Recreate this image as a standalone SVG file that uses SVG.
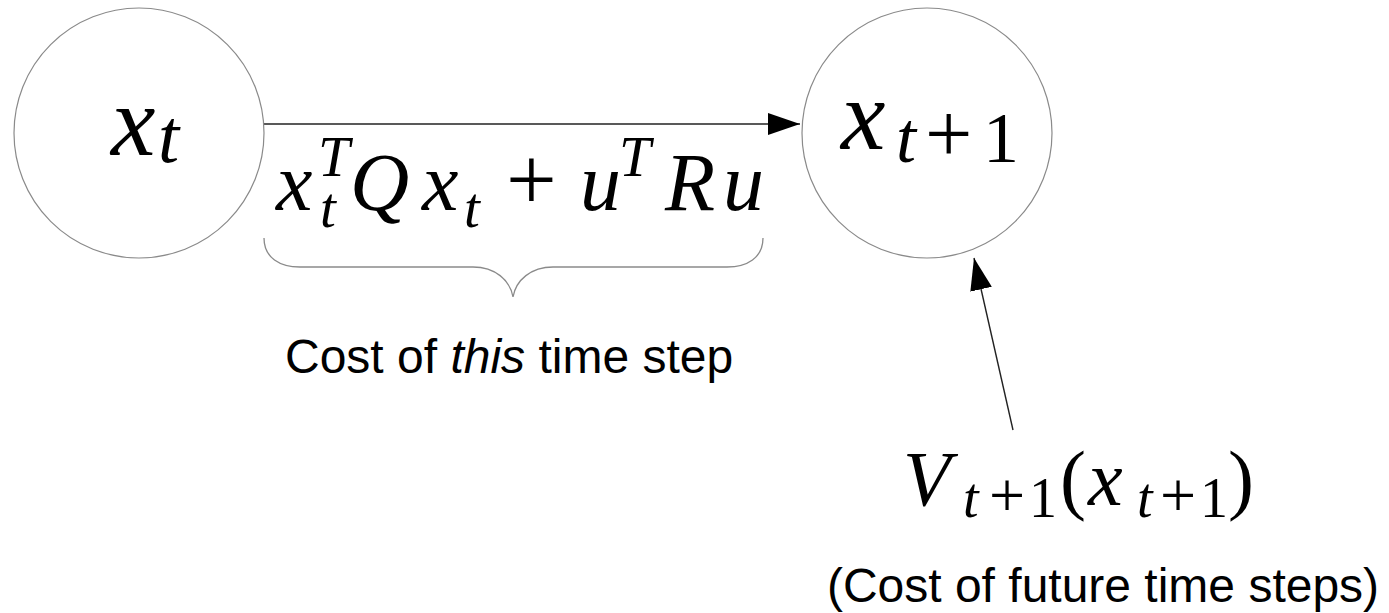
<svg xmlns="http://www.w3.org/2000/svg" width="1389" height="613" viewBox="0 0 1389 613">
<style>
.node{fill:#fff;stroke:#8a8a8a;stroke-width:1.2}
.edge{stroke:#222;stroke-width:1.4;fill:none}
.brace{stroke:#8a8a8a;stroke-width:1.3;fill:none}
.m{font-family:"Liberation Serif","DejaVu Serif",serif;font-style:italic;fill:#000}
.r{font-style:normal}
.lbl{font-family:"Liberation Sans",Arial,sans-serif;font-size:48px;fill:#000}
</style>
<defs>
<marker id="ah" markerUnits="userSpaceOnUse" markerWidth="34" markerHeight="24" refX="32" refY="11" orient="auto">
<path d="M0,0 L32,11 L0,22 z" fill="#000"/>
</marker>
</defs>
<rect width="1389" height="613" fill="#fff"/>
<g id="connectors">
<line class="edge" x1="263" y1="124" x2="800" y2="124" marker-end="url(#ah)"/>
<line class="edge" x1="1013" y1="430" x2="974" y2="258" marker-end="url(#ah)"/>
</g>
<g id="node-xt">
<circle class="node" cx="139" cy="133" r="125"/>
<text class="m"><tspan x="111" y="155" font-size="100">x</tspan><tspan x="158" y="162" font-size="76">t</tspan></text>
</g>
<g id="node-xt1">
<circle class="node" cx="927" cy="133" r="125"/>
<text class="m"><tspan x="841" y="149" font-size="100">x</tspan><tspan x="896" y="162" font-size="72">t</tspan><tspan class="r" x="925" y="162" font-size="84">+</tspan><tspan class="r" x="983" y="162" font-size="72">1</tspan></text>
</g>
<g id="cost-formula">
<text class="m" font-size="82"><tspan x="276" y="210">x</tspan><tspan x="318" y="176" font-size="57">T</tspan><tspan x="320" y="227" font-size="57">t</tspan><tspan x="350" y="210">Q</tspan><tspan x="422" y="210">x</tspan><tspan x="464" y="227" font-size="57">t</tspan><tspan class="r" x="506" y="210" font-size="90">+</tspan><tspan x="580" y="210">u</tspan><tspan x="619" y="176" font-size="57">T</tspan><tspan x="665" y="210">R</tspan><tspan x="723" y="210">u</tspan></text>
<path class="brace" d="M264,238 C264,258 280,267 300,267 L473,267 C495,267 510,280 513,297 C516,280 531,267 553,267 L727,267 C747,267 763,258 763,238"/>
<text class="lbl" x="285" y="373">Cost of <tspan font-style="italic">this</tspan> time step</text>
</g>
<g id="value-formula">
<text class="m" font-size="78"><tspan x="903" y="505">V</tspan><tspan x="963" y="517" font-size="56">t</tspan><tspan class="r" x="989" y="517" font-size="64">+</tspan><tspan class="r" x="1029" y="517" font-size="56">1</tspan><tspan class="r" x="1060" y="505">(</tspan><tspan x="1088" y="505">x</tspan><tspan x="1137" y="517" font-size="56">t</tspan><tspan class="r" x="1160" y="517" font-size="64">+</tspan><tspan class="r" x="1200" y="517" font-size="56">1</tspan><tspan class="r" x="1228" y="505">)</tspan></text>
<text class="lbl" x="1103" y="602" text-anchor="middle">(Cost of future time steps)</text>
</g>
</svg>
